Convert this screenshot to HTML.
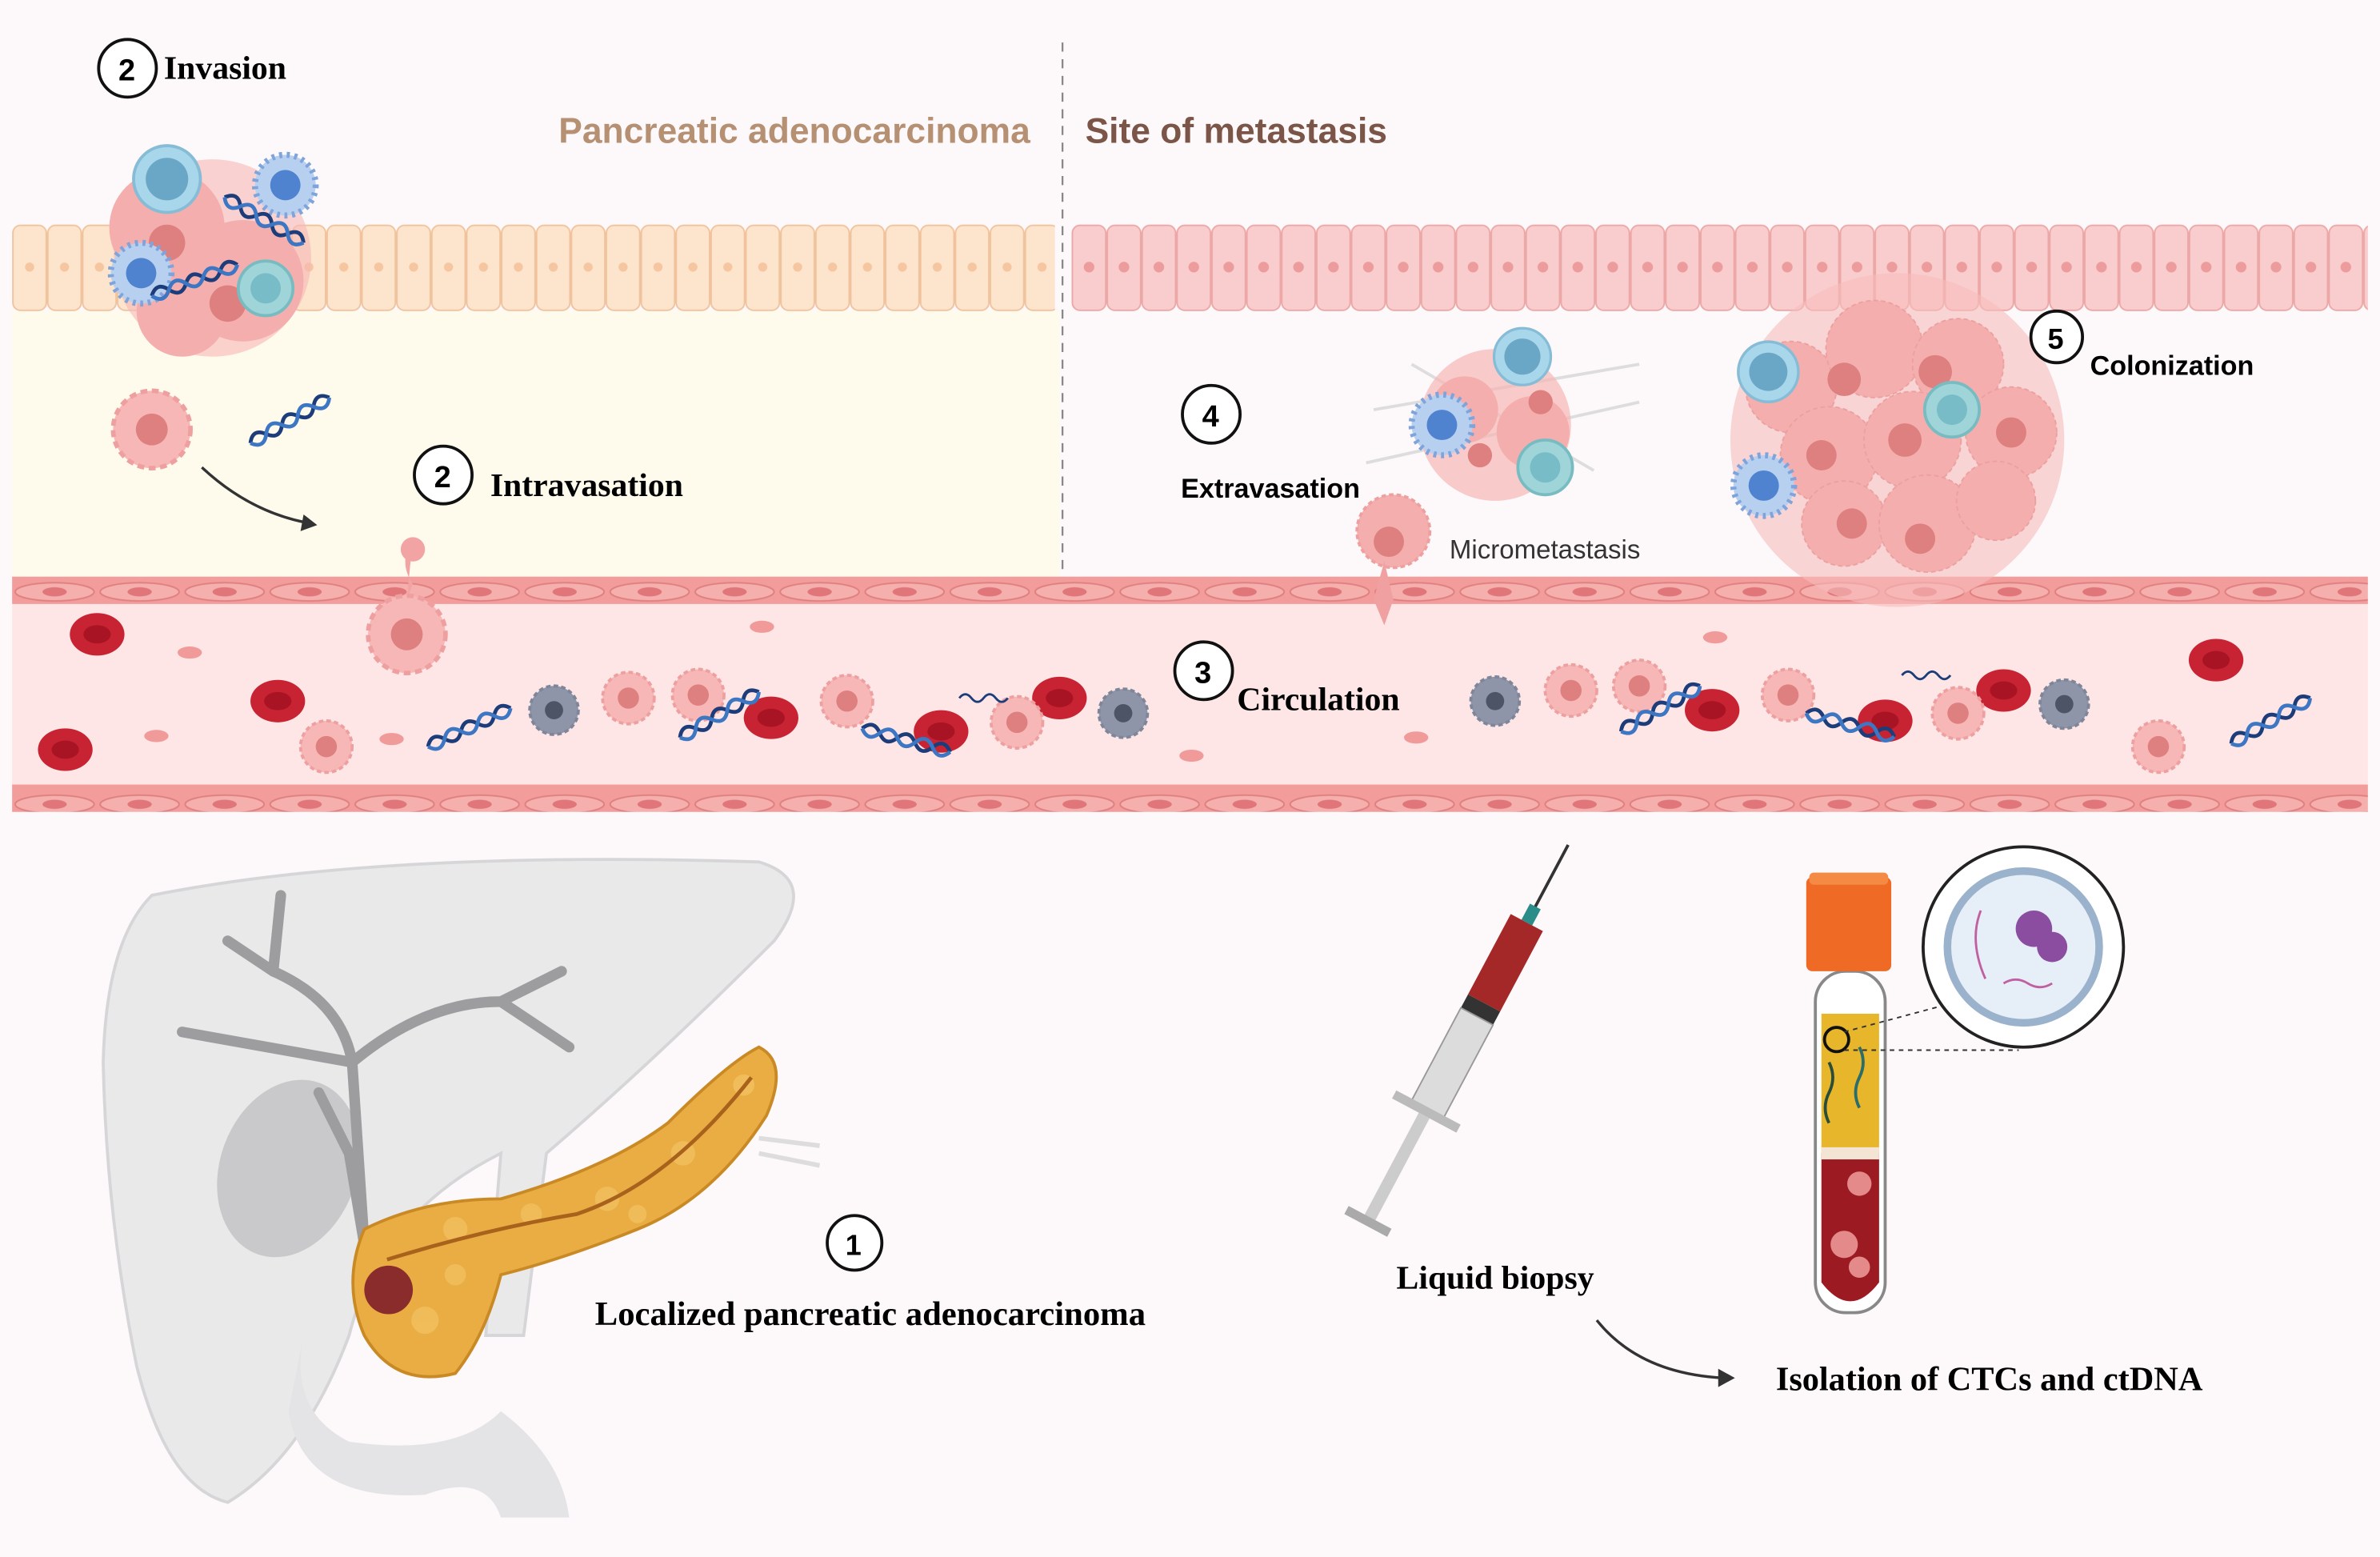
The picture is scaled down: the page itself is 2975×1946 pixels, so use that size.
<!DOCTYPE html>
<html><head><meta charset="utf-8"><style>
html,body{margin:0;padding:0;background:#fff;}
svg{display:block}
text{font-family:"Liberation Serif",serif;}
.s{font-family:"Liberation Sans",sans-serif;}
</style></head><body>
<svg width="2975" height="1946" viewBox="0 0 1568 1026" preserveAspectRatio="none" xmlns="http://www.w3.org/2000/svg">
<defs>
<pattern id="epiL" x="8" y="148" width="23" height="57" patternUnits="userSpaceOnUse">
<rect x="0.5" y="0.5" width="22" height="56" rx="5" fill="#fde4cd" stroke="#f0c39d" stroke-width="1"/>
<ellipse cx="11.5" cy="28" rx="3" ry="3" fill="#f6c6a0"/>
</pattern>
<pattern id="epiR" x="706" y="148" width="23" height="57" patternUnits="userSpaceOnUse">
<rect x="0.5" y="0.5" width="22" height="56" rx="5" fill="#f9cdcd" stroke="#eca7a7" stroke-width="1"/>
<ellipse cx="11.5" cy="28" rx="3.5" ry="3.5" fill="#ec9c9c"/>
</pattern>
<pattern id="wall" x="8" y="0" width="56" height="20" patternUnits="userSpaceOnUse">
<rect width="56" height="20" fill="#f29c9c"/>
<ellipse cx="28" cy="10" rx="26" ry="6" fill="#f5b0ae" stroke="#e07f7f" stroke-width="1"/>
<ellipse cx="28" cy="10" rx="8" ry="3" fill="#e0767a"/>
</pattern>
<g id="cell"><circle r="17" fill="#f7b7b7" stroke="#eea0a0" stroke-width="2" stroke-dasharray="3 2"/><circle r="7" fill="#df8080"/></g>
<g id="gcell"><circle r="16" fill="#8e95a8" stroke="#7f869a" stroke-width="2" stroke-dasharray="3 2"/><circle r="6" fill="#4d5466"/></g>
<g id="rbc"><ellipse rx="18" ry="14" fill="#c72333"/><ellipse rx="9" ry="6" fill="#a81424"/></g>
<g id="bcell"><circle r="22" fill="#a8d6ea" stroke="#86bcd6" stroke-width="2"/><circle r="14" fill="#6aa7c6"/></g>
<g id="tcell"><circle r="18" fill="#9fd4d8" stroke="#78bcc2" stroke-width="2"/><circle r="10" fill="#77bcc6"/></g>
<g id="spiky"><circle r="20" fill="#b8d0ef" stroke="#7fa4db" stroke-width="4" stroke-dasharray="2 3"/><circle r="10" fill="#4f83cf"/></g>
<g id="dna"><path d="M0 0 q6 -8 12 0 t12 0 t12 0 t12 0 t12 0" fill="none" stroke="#1d3d7a" stroke-width="2.5"/><path d="M0 0 q6 8 12 0 t12 0 t12 0 t12 0 t12 0" fill="none" stroke="#3d77c4" stroke-width="2.5"/></g>
</defs>
<rect width="1568" height="1026" fill="#fdf8fa"/>
<rect x="8" y="205" width="690" height="175" fill="#fffbec"/>
<line x1="700" y1="28" x2="700" y2="378" stroke="#888" stroke-width="1.2" stroke-dasharray="6 5"/>
<rect x="8" y="148" width="687" height="57" fill="url(#epiL)"/>
<rect x="706" y="148" width="854" height="57" fill="url(#epiR)"/>
<!-- vessel -->
<rect x="8" y="380" width="1552" height="155" fill="#fde6e5"/>
<rect x="8" y="380" width="1552" height="18" fill="url(#wall)"/>
<rect x="8" y="517" width="1552" height="18" fill="url(#wall)"/>
<!-- titles -->
<text x="368" y="94" class="s" font-size="23.4" font-weight="bold" fill="#b69073">Pancreatic adenocarcinoma</text>
<text x="715" y="94" class="s" font-size="23.4" font-weight="bold" fill="#7a5548">Site of metastasis</text>
<!-- invasion tumor -->
<circle cx="140" cy="170" r="65" fill="#f6b7b5" opacity="0.6"/>
<circle cx="110" cy="150" r="38" fill="#f4aeae"/><circle cx="160" cy="185" r="40" fill="#f4aeae"/><circle cx="120" cy="205" r="30" fill="#f4aeae"/>
<circle cx="110" cy="160" r="12" fill="#de8080"/><circle cx="150" cy="200" r="12" fill="#de8080"/>
<use href="#bcell" x="110" y="118"/><use href="#spiky" x="188" y="122"/><use href="#spiky" x="93" y="180"/><use href="#tcell" x="175" y="190"/>
<use href="#dna" x="148" y="130" transform="rotate(30 148 130)"/><use href="#dna" x="100" y="195" transform="rotate(-20 100 195)"/>
<use href="#cell" x="100" y="283" transform="translate(100 283) scale(1.5) translate(-100 -283)"/>
<use href="#dna" x="165" y="292" transform="rotate(-30 165 292)"/>
<path d="M133 308 Q165 338 205 345" fill="none" stroke="#333" stroke-width="1.8"/><path d="M200 339 L209 346 L198 350 Z" fill="#333"/>
<circle cx="84" cy="45" r="19" fill="#fff" stroke="#111" stroke-width="2"/><text x="78" y="53" font-size="20" font-weight="bold" class="s">2</text>
<text x="108" y="52" font-size="22" font-weight="bold">Invasion</text>
<circle cx="292" cy="313" r="19" fill="#fff" stroke="#111" stroke-width="2"/><text x="286" y="321" font-size="20" font-weight="bold" class="s">2</text>
<text x="323" y="327" font-size="22" font-weight="bold">Intravasation</text>
<!-- intravasating cell -->
<path d="M272 355 Q262 370 272 385 L268 395" fill="#f2a4a4"/><circle cx="272" cy="362" r="8" fill="#f2a4a4"/>
<use href="#cell" x="268" y="418" transform="translate(268 418) scale(1.5) translate(-268 -418)"/>
<!-- circulation contents -->
<use href="#rbc" x="64" y="418"/><use href="#rbc" x="183" y="462"/><use href="#rbc" x="43" y="494"/><use href="#rbc" x="508" y="473"/>
<use href="#rbc" x="620" y="482"/><use href="#rbc" x="698" y="460"/><use href="#rbc" x="1128" y="468"/><use href="#rbc" x="1242" y="475"/>
<use href="#rbc" x="1320" y="455"/><use href="#rbc" x="1460" y="435"/>
<ellipse cx="125" cy="430" rx="8" ry="4" fill="#f19a9a"/><ellipse cx="103" cy="485" rx="8" ry="4" fill="#f19a9a"/><ellipse cx="258" cy="487" rx="8" ry="4" fill="#f19a9a"/>
<ellipse cx="502" cy="413" rx="8" ry="4" fill="#f19a9a"/><ellipse cx="785" cy="498" rx="8" ry="4" fill="#f19a9a"/><ellipse cx="933" cy="486" rx="8" ry="4" fill="#f19a9a"/><ellipse cx="1130" cy="420" rx="8" ry="4" fill="#f19a9a"/>
<use href="#cell" x="215" y="492"/><use href="#cell" x="414" y="460"/><use href="#cell" x="460" y="458"/><use href="#cell" x="558" y="462"/><use href="#cell" x="670" y="476"/>
<use href="#cell" x="1035" y="455"/><use href="#cell" x="1080" y="452"/><use href="#cell" x="1178" y="458"/><use href="#cell" x="1290" y="470"/><use href="#cell" x="1422" y="492"/>
<use href="#gcell" x="365" y="468"/><use href="#gcell" x="740" y="470"/><use href="#gcell" x="985" y="462"/><use href="#gcell" x="1360" y="464"/>
<use href="#dna" x="282" y="492" transform="rotate(-25 282 492)"/><use href="#dna" x="448" y="486" transform="rotate(-30 448 486)"/><use href="#dna" x="568" y="480" transform="rotate(15 568 480)"/>
<use href="#dna" x="1068" y="482" transform="rotate(-30 1068 482)"/><use href="#dna" x="1190" y="470" transform="rotate(15 1190 470)"/><use href="#dna" x="1470" y="490" transform="rotate(-30 1470 490)"/>
<path d="M632 460 q4 -5 8 0 t8 0 t8 0 t8 0" stroke="#1d3d7a" fill="none" stroke-width="1.5"/>
<path d="M1253 445 q4 -5 8 0 t8 0 t8 0 t8 0" stroke="#1d3d7a" fill="none" stroke-width="1.5"/>
<circle cx="793" cy="442" r="19" fill="#fff" stroke="#111" stroke-width="2"/><text x="787" y="450" font-size="20" font-weight="bold" class="s">3</text>
<text x="815" y="468" font-size="22" font-weight="bold">Circulation</text>
<!-- extravasation -->
<g stroke="#ddd" stroke-width="2" fill="none"><path d="M905 270 L1080 240"/><path d="M900 305 L1080 265"/><path d="M930 240 L1050 310"/></g>
<circle cx="985" cy="280" r="50" fill="#f6b7b5" opacity="0.7"/>
<circle cx="965" cy="270" r="22" fill="#f4aeae"/><circle cx="1010" cy="285" r="24" fill="#f4aeae"/><circle cx="1015" cy="265" r="8" fill="#de8080"/><circle cx="975" cy="300" r="8" fill="#de8080"/>
<use href="#bcell" x="1003" y="235" transform="translate(1003 235) scale(0.85) translate(-1003 -235)"/><use href="#spiky" x="950" y="280"/><use href="#tcell" x="1018" y="308"/>
<circle cx="918" cy="350" r="24" fill="#f4aeae" stroke="#eea0a0" stroke-width="2" stroke-dasharray="3 2"/><circle cx="915" cy="357" r="10" fill="#df8080"/>
<path d="M912 370 L905 395 L912 412 L918 395 Z" fill="#f0a0a0"/>
<circle cx="798" cy="273" r="19" fill="#fff" stroke="#111" stroke-width="2"/><text x="792" y="281" font-size="20" font-weight="bold" class="s">4</text>
<text x="778" y="328" class="s" font-size="18" font-weight="bold">Extravasation</text>
<text x="955" y="368" class="s" font-size="17.4" fill="#333">Micrometastasis</text>
<!-- colonization -->
<circle cx="1250" cy="290" r="110" fill="#f6bcba" opacity="0.6"/>
<g fill="#f4aeae" stroke="#eca0a0" stroke-dasharray="3 2">
<circle cx="1180" cy="255" r="30"/><circle cx="1235" cy="230" r="32"/><circle cx="1290" cy="240" r="30"/><circle cx="1325" cy="285" r="30"/>
<circle cx="1205" cy="300" r="32"/><circle cx="1260" cy="290" r="32"/><circle cx="1215" cy="345" r="28"/><circle cx="1270" cy="345" r="32"/><circle cx="1315" cy="330" r="26"/></g>
<g fill="#de8080"><circle cx="1215" cy="250" r="11"/><circle cx="1275" cy="245" r="11"/><circle cx="1255" cy="290" r="11"/><circle cx="1200" cy="300" r="10"/><circle cx="1265" cy="355" r="10"/><circle cx="1325" cy="285" r="10"/><circle cx="1220" cy="345" r="10"/></g>
<use href="#bcell" x="1165" y="245" transform="translate(1165 245) scale(0.9) translate(-1165 -245)"/><use href="#tcell" x="1286" y="270"/><use href="#spiky" x="1162" y="320"/>
<circle cx="1355" cy="222" r="17" fill="#fff" stroke="#111" stroke-width="2"/><text x="1349" y="230" font-size="19" font-weight="bold" class="s">5</text>
<text x="1377" y="247" class="s" font-size="18" font-weight="bold">Colonization</text>
<!-- liver -->
<path d="M100 590 Q250 560 500 568 Q540 580 510 620 Q430 700 360 760 L345 880 L320 880 L330 760 Q250 800 230 880 Q200 960 150 990 Q110 980 90 900 Q70 800 68 700 Q70 620 100 590 Z" fill="#e9e9ea" stroke="#d6d6d8" stroke-width="2"/>
<path d="M200 880 Q190 930 230 950 Q300 960 330 930 Q370 960 375 1000 L330 1000 Q320 970 280 985 Q200 990 190 930 Z" fill="#e4e4e6"/>
<ellipse cx="190" cy="770" rx="45" ry="60" fill="#c9c9cb" transform="rotate(20 190 770)"/>
<g stroke="#9d9d9f" stroke-width="7" fill="none" stroke-linecap="round">
<path d="M240 820 L232 700 Q225 660 180 640 L150 620"/><path d="M232 700 Q280 660 330 660 L370 640"/><path d="M180 640 L185 590"/><path d="M330 660 L375 690"/><path d="M232 700 L120 680"/><path d="M240 820 L230 760 L210 720"/></g>
<!-- pancreas -->
<path d="M240 810 Q280 790 330 790 Q400 770 440 740 Q480 700 500 690 Q520 700 505 735 Q470 790 420 810 Q370 830 330 840 Q320 880 300 905 Q260 915 240 880 Q225 845 240 810 Z" fill="#e9ad44" stroke="#c98a25" stroke-width="2"/>
<g fill="#f2c060" opacity="0.8"><circle cx="300" cy="810" r="8"/><circle cx="350" cy="800" r="7"/><circle cx="400" cy="790" r="8"/><circle cx="450" cy="760" r="8"/><circle cx="490" cy="715" r="7"/><circle cx="280" cy="870" r="9"/><circle cx="300" cy="840" r="7"/><circle cx="420" cy="800" r="6"/></g>
<path d="M255 830 Q320 810 380 800 Q440 780 495 710" stroke="#a8621c" stroke-width="2.5" fill="none"/>
<path d="M500 750 L540 755 M500 760 L540 768" stroke="#ddd" stroke-width="3"/>
<circle cx="256" cy="850" r="16" fill="#8a2c2c"/>
<circle cx="563" cy="819" r="18" fill="#fff" stroke="#111" stroke-width="2"/><text x="557" y="827" font-size="19" font-weight="bold" class="s">1</text>
<text x="392" y="873" font-size="22.5" font-weight="bold">Localized pancreatic adenocarcinoma</text>
<!-- syringe -->
<g transform="rotate(28 966 683)">
<line x1="966" y1="540" x2="966" y2="588" stroke="#333" stroke-width="2"/>
<rect x="962" y="586" width="8" height="12" fill="#2a8d89"/>
<rect x="954" y="598" width="24" height="60" fill="#a52828"/>
<rect x="954" y="658" width="24" height="10" fill="#333"/>
<rect x="954" y="668" width="24" height="70" fill="#dcdcdc" stroke="#999"/>
<rect x="942" y="736" width="48" height="6" fill="#bbb"/>
<rect x="962" y="742" width="8" height="78" fill="#ccc"/>
<rect x="950" y="818" width="32" height="6" fill="#aaa"/>
</g>
<text x="920" y="849" font-size="22" font-weight="bold">Liquid biopsy</text>
<path d="M1052 870 Q1080 905 1135 908" fill="none" stroke="#333" stroke-width="1.8"/><path d="M1132 902 L1143 908 L1132 914 Z" fill="#333"/>
<!-- tube -->
<rect x="1196" y="640" width="46" height="225" rx="20" fill="#fff" stroke="#888" stroke-width="2"/>
<rect x="1200" y="668" width="38" height="92" fill="#e7b62a"/>
<path d="M1200 760 H1238 V845 Q1219 870 1200 845 Z" fill="#9c1b22"/>
<rect x="1200" y="756" width="38" height="8" fill="#f4e4d4"/>
<rect x="1190" y="578" width="56" height="62" rx="4" fill="#ef6a25"/>
<rect x="1192" y="575" width="52" height="8" rx="3" fill="#f58a45"/>
<circle cx="1225" cy="780" r="8" fill="#e48a8a"/><circle cx="1215" cy="820" r="9" fill="#e48a8a"/><circle cx="1225" cy="835" r="7" fill="#e48a8a"/>
<path d="M1205 700 q5 10 0 20 t0 20" stroke="#2a4d3a" fill="none" stroke-width="2"/><path d="M1225 690 q5 10 0 20 t0 20" stroke="#2a6d6a" fill="none" stroke-width="2"/>
<circle cx="1210" cy="685" r="8" fill="none" stroke="#111" stroke-width="2"/>
<line x1="1215" y1="680" x2="1290" y2="660" stroke="#333" stroke-dasharray="3 3"/><line x1="1215" y1="692" x2="1330" y2="692" stroke="#333" stroke-dasharray="3 3"/>
<circle cx="1333" cy="624" r="66" fill="#fff" stroke="#222" stroke-width="2"/>
<circle cx="1333" cy="624" r="50" fill="#e6eef7" stroke="#9ab2cc" stroke-width="5"/>
<circle cx="1340" cy="612" r="12" fill="#8a4da0"/><circle cx="1352" cy="624" r="10" fill="#8a4da0"/>
<path d="M1305 600 q-8 20 3 45" stroke="#c060a0" fill="none" stroke-width="1.5"/>
<path d="M1320 648 q8 -5 16 0 t16 0" stroke="#c060a0" fill="none" stroke-width="1.5"/>
<text x="1170" y="916" font-size="22.3" font-weight="bold">Isolation of CTCs and ctDNA</text>
</svg>
</body></html>
